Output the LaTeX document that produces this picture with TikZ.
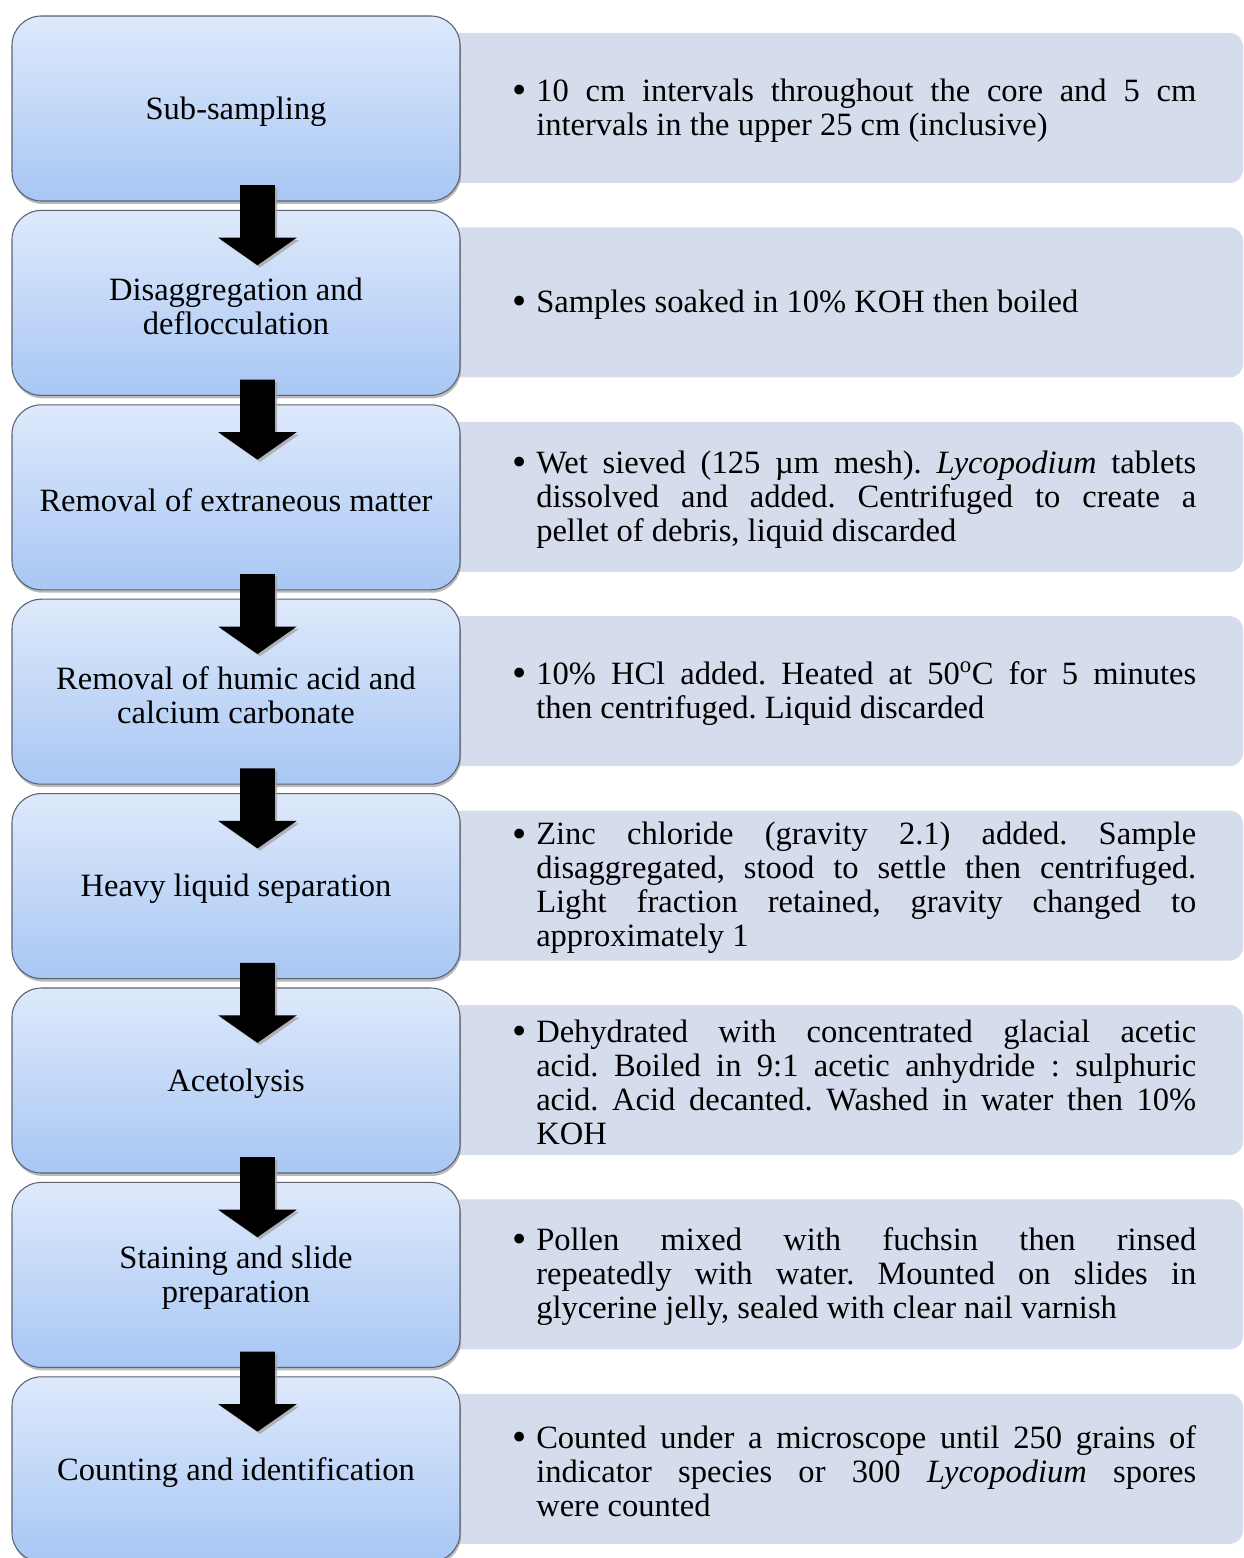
\documentclass[tikz,border=0pt]{standalone}
\usepackage{fontspec}
\setmainfont{Liberation Serif}
\usetikzlibrary{shapes.arrows,shadows,calc}
\definecolor{rbox}{HTML}{D5DCEB}
\definecolor{ltop}{HTML}{DEE9FB}
\definecolor{lbot}{HTML}{A8C7F4}
\definecolor{lborder}{HTML}{5A6272}
\newcommand\stagefont{\fontsize{24.4}{25.5}\selectfont\frenchspacing}
\tikzset{
  x=0.75pt, y=-0.75pt,
  leftbox/.style={rounded corners=22pt, draw=lborder, line width=0.8pt,
    top color=ltop, bottom color=lbot, minimum width=336pt, minimum height=138.75pt,
    inner sep=0pt, align=center, font=\stagefont,
    drop shadow={shadow xshift=0.8pt, shadow yshift=-2.2pt, opacity=0.45, fill=black!60}},
  rightbox/.style={rounded corners=10pt, fill=rbox, minimum width=602.25pt,
    minimum height=112.5pt, inner sep=0pt},
  lefttext/.style={align=center, inner sep=0pt, font=\stagefont},
  desc/.style={text width=495pt, align=justify, anchor=west, inner sep=0pt, font=\stagefont},
  downarrow/.style={single arrow, fill=black, shape border rotate=270,
    minimum height=60pt, minimum width=58.5pt, inner sep=12.75pt,
    single arrow head extend=16.5pt, single arrow tip angle=110, anchor=tip,
    drop shadow={shadow xshift=1.8pt, shadow yshift=-1.8pt, fill=black!35, opacity=0.8}}
}
\newcommand\stagerow[3]{%
  \pgfmathsetmacro\tp{16+194.4*(#1-1)}
  \node[rightbox] (R#1) at (841.5,\tp+92) {};
  \node[leftbox] (L#1) at (236,\tp+92.5) {};
  \node[lefttext] (N#1) at (236,\tp+95.5) {#2};
  \node[desc] (T#1) at (536,\tp+94.5) {\tolerance=10000\llap{\raisebox{-1.6pt}{\scalebox{1.25}{\textbullet}}\hspace{7.5pt}}#3};
}
\begin{document}
\begin{tikzpicture}
\useasboundingbox (0,0) rectangle (1244,1558);
\stagerow{1}{Sub-sampling}{10 cm intervals throughout the core and 5 cm \linebreak intervals in the upper 25 cm (inclusive)}
\stagerow{2}{Disaggregation and\\deflocculation}{Samples soaked in 10\% KOH then boiled}
\stagerow{3}{Removal of extraneous matter}{Wet sieved (125 µm mesh). \emph{Lycopodium} tablets \linebreak dissolved and added. Centrifuged to create a \linebreak pellet of debris, liquid discarded}
\stagerow{4}{Removal of humic acid and\\calcium carbonate}{10\% HCl added. Heated at 50\textsuperscript{o}C for 5 minutes \linebreak then centrifuged. Liquid discarded}
\stagerow{5}{Heavy liquid separation}{Zinc chloride (gravity 2.1) added. Sample \linebreak disaggregated, stood to settle then centrifuged. \linebreak Light fraction retained, gravity changed to \linebreak approximately 1}
\stagerow{6}{Acetolysis}{Dehydrated with concentrated glacial acetic \linebreak acid. Boiled in 9:1 acetic anhydride : sulphuric \linebreak acid. Acid decanted. Washed in water then 10\% \linebreak KOH}
\stagerow{7}{Staining and slide\\preparation}{Pollen mixed with fuchsin then rinsed \linebreak repeatedly with water. Mounted on slides in \linebreak glycerine jelly, sealed with clear nail varnish}
\stagerow{8}{Counting and identification}{Counted under a microscope until 250 grains of \linebreak indicator species or 300 \emph{Lycopodium} spores \linebreak were counted}
\foreach \k in {1,...,7}{
  \node[downarrow] (A\k) at ($(L\k.south)+(21.5,64)$) {};
}
\end{tikzpicture}
\end{document}
